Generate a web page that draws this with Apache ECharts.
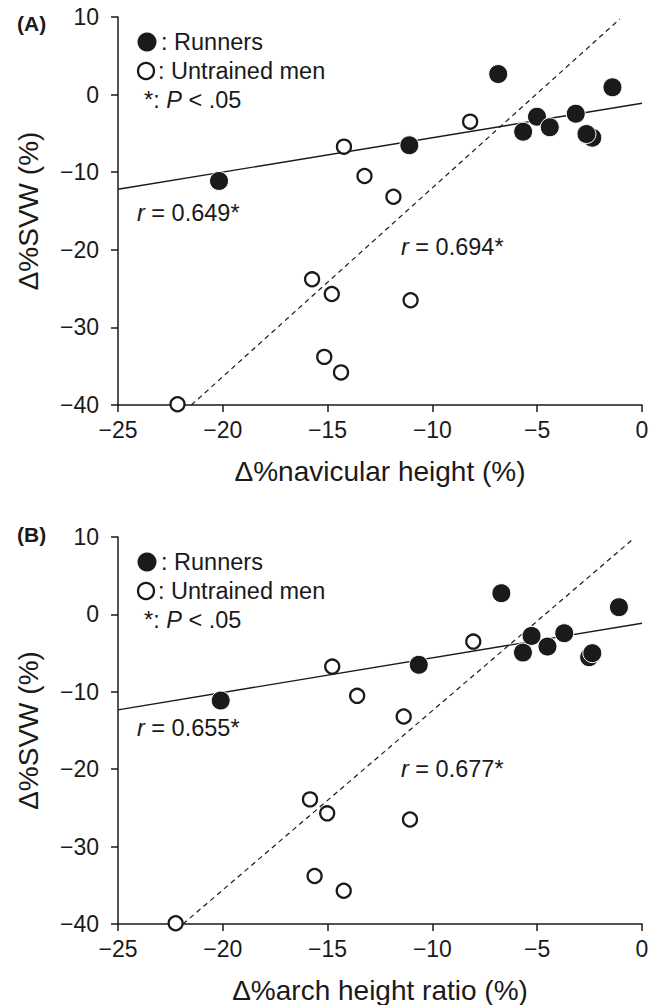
<!DOCTYPE html>
<html>
<head>
<meta charset="utf-8">
<script src="https://cdn.jsdelivr.net/npm/echarts@6/dist/echarts.min.js"></script>
<style>
  html, body { margin: 0; padding: 0; background: #fff; }
  #chart { width: 658px; height: 1005px; }
</style>
</head>
<body>
<div id="chart"></div>
<script>
// 数据: [Δ%x, Δ%SVW]
const runnersA = [[-20.18, -11.13], [-11.10, -6.53], [-6.86, 2.65], [-5.67, -4.78], [-5.01, -2.85], [-4.40, -4.21], [-3.16, -2.46], [-2.37, -5.55], [-2.65, -5.08], [-1.41, 0.94]]
const untrainedA = [[-22.16, -39.9], [-15.74, -23.8], [-15.16, -33.8], [-14.80, -25.7], [-14.36, -35.8], [-14.22, -6.71], [-13.24, -10.49], [-11.86, -13.16], [-11.04, -26.5], [-8.20, -3.49]]
const fitAllA = [[-21.5, -40], [-1.06, 9.74]]
const fitRunA = [[-25, -12.2], [0, -1.12]]

const runnersB = [[-20.10, -11.13], [-10.65, -6.51], [-6.71, 2.74], [-5.68, -4.93], [-5.27, -2.78], [-4.51, -4.16], [-3.71, -2.43], [-2.52, -5.53], [-2.37, -5.01], [-1.10, 0.93]]
const untrainedB = [[-22.25, -39.9], [-15.84, -23.9], [-15.62, -33.8], [-15.02, -25.7], [-14.78, -6.74], [-14.23, -35.7], [-13.59, -10.52], [-11.37, -13.19], [-11.07, -26.5], [-8.05, -3.51]]
const fitAllB = [[-21.9, -40], [-0.38, 9.84]]
const fitRunB = [[-25, -12.33], [0, -1.14]]

const xNames = ['Δ%navicular height (%)', 'Δ%arch height ratio (%)']
const yName = 'Δ%SVW (%)'
const panelLabels = ['(A)', '(B)']
const rRunners = ['0.649*', '0.655*']
const rAll = ['0.694*', '0.677*']

const FONT = "'Liberation Sans', Arial, Helvetica, sans-serif"
const INK = '#1a1a1a'
const panelTops = [17, 537]
const panelShift = [0, 520]

const chart = echarts.init(document.getElementById('chart'), null, { renderer: 'svg' })

const minus = v => String(v).replace('-', '\u2212')

const makeX = (i) => ({
  type: 'value', gridIndex: i, min: -25, max: 0, interval: 5,
  name: xNames[i], nameLocation: 'middle', nameGap: 52,
  nameTextStyle: { fontSize: 28, color: INK, fontFamily: FONT },
  axisLine: { onZero: false, lineStyle: { color: INK, width: 1.5 } },
  axisTick: { inside: false, length: 7, lineStyle: { color: INK, width: 1.5 } },
  axisLabel: { fontSize: 23, color: INK, fontFamily: FONT, margin: 13, formatter: minus },
  splitLine: { show: false }
})

const makeY = (i) => ({
  type: 'value', gridIndex: i, min: -40, max: 10, interval: 10,
  name: yName, nameLocation: 'middle', nameGap: 76,
  nameTextStyle: { fontSize: 28, color: INK, fontFamily: FONT },
  axisLine: { onZero: false, lineStyle: { color: INK, width: 1.5 } },
  axisTick: { inside: false, length: 7, lineStyle: { color: INK, width: 1.5 } },
  axisLabel: { fontSize: 23, color: INK, fontFamily: FONT, margin: 19, formatter: minus },
  splitLine: { show: false }
})

const lineSeries = (i, data, dashed) => ({
  type: 'line', xAxisIndex: i, yAxisIndex: i, data, symbol: 'none', z: 1,
  lineStyle: { color: INK, width: dashed ? 1.2 : 1.4, type: dashed ? [5, 4] : 'solid' },
  silent: true
})

const openSeries = (i, data) => ({
  type: 'scatter', xAxisIndex: i, yAxisIndex: i, data, symbolSize: 14, z: 3,
  itemStyle: { color: '#fff', borderColor: INK, borderWidth: 2.3, opacity: 1 }
})

const filledSeries = (i, data) => ({
  type: 'scatter', xAxisIndex: i, yAxisIndex: i, data, symbolSize: 19, z: 4,
  itemStyle: { color: INK, borderColor: '#fff', borderWidth: 1, opacity: 1 }
})

const txt = (x, y, text, extra) => ({
  type: 'text', x, y,
  style: Object.assign({
    text, fill: INK, fontSize: 23.5, fontFamily: FONT, verticalAlign: 'middle', align: 'left'
  }, extra || {})
})

const rText = (x, y, val) => txt(x, y, '{i|r} = ' + val, {
  rich: { i: { fontStyle: 'italic', fontSize: 23.5, fontFamily: FONT, fill: INK } }
})

// 图例与注释
const graphics = []
for (let i = 0; i < 2; i++) {
  const d = panelShift[i]
  graphics.push(txt(17, 23 + d + (i ? -9 : 0), panelLabels[i], { fontWeight: 'bold', fontSize: 21 }))
  graphics.push({ type: 'circle', shape: { cx: 147, cy: 42 + d, r: 9.5 }, style: { fill: INK } })
  graphics.push(txt(161, 42 + d, ': Runners'))
  graphics.push({ type: 'circle', shape: { cx: 146, cy: 71 + d, r: 8 }, style: { fill: '#fff', stroke: INK, lineWidth: 2.3 } })
  graphics.push(txt(158, 71 + d, ': Untrained men'))
  graphics.push(txt(144, 100 + d, '*: {i|P} < .05', {
    rich: { i: { fontStyle: 'italic', fontSize: 23.5, fontFamily: FONT, fill: INK } }
  }))
}
graphics.push(rText(137, 213, rRunners[0]))
graphics.push(rText(401, 247, rAll[0]))
graphics.push(rText(137, 728, rRunners[1]))
graphics.push(rText(401, 769, rAll[1]))

const option = {
  animation: false,
  backgroundColor: '#fff',
  grid: [
    { left: 118, width: 524, top: panelTops[0], height: 388 },
    { left: 118, width: 524, top: panelTops[1], height: 387 }
  ],
  xAxis: [makeX(0), makeX(1)],
  yAxis: [makeY(0), makeY(1)],
  series: [
    lineSeries(0, fitAllA, true),
    lineSeries(0, fitRunA, false),
    openSeries(0, untrainedA),
    filledSeries(0, runnersA),
    lineSeries(1, fitAllB, true),
    lineSeries(1, fitRunB, false),
    openSeries(1, untrainedB),
    filledSeries(1, runnersB)
  ],
  graphic: graphics
}

chart.setOption(option)
</script>
</body>
</html>
